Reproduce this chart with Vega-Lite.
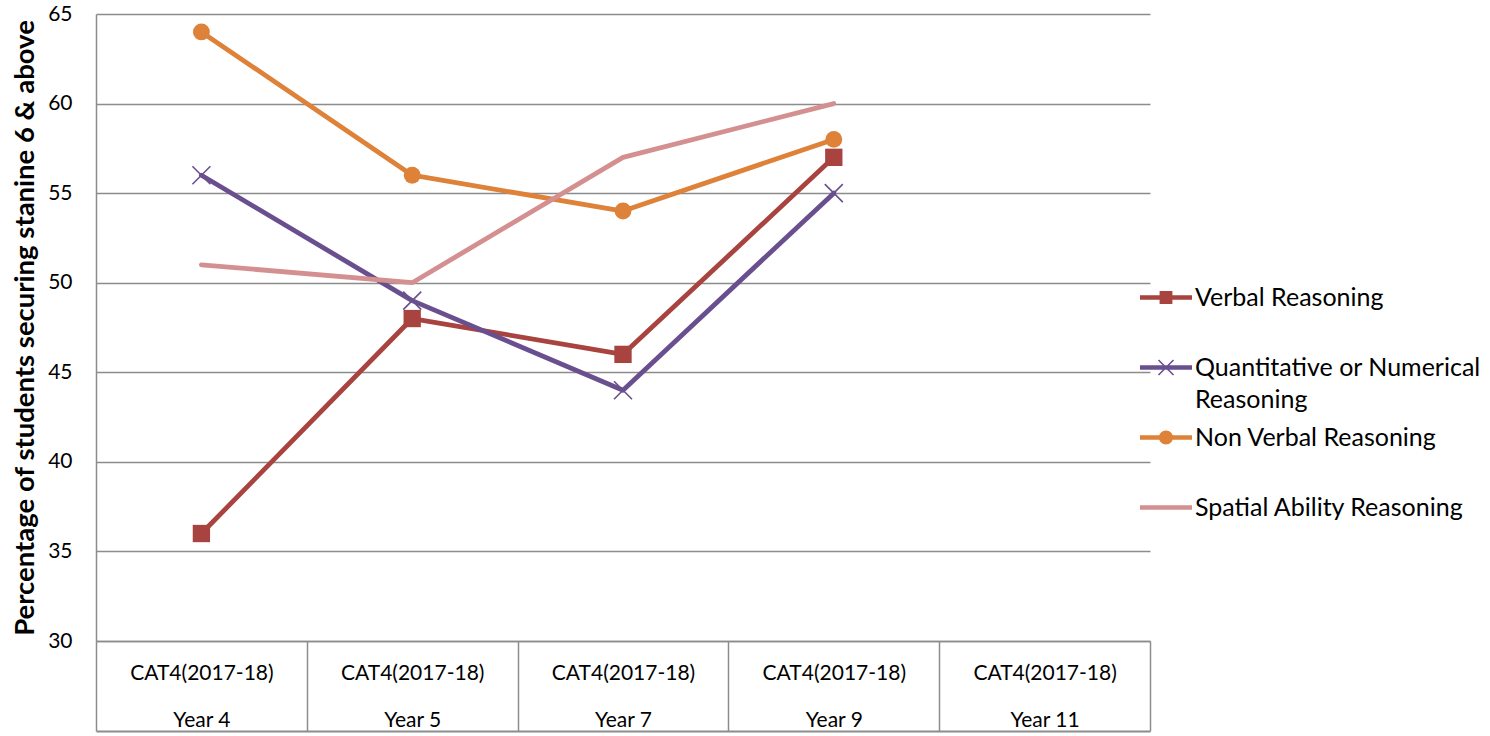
{
  "$schema": "https://vega.github.io/schema/vega-lite/v6.json",
  "width": 1054,
  "height": 627,
  "autosize": "none",
  "padding": {"left": 96, "top": 14, "right": 340, "bottom": 95},
  "background": "white",
  "config": {"font": "Lato", "view": {"stroke": null}, "style": {"guide-label": {"lineHeight": 32}}},
  "data": {
    "values": [
      {"year": "Year 4", "series": "Verbal Reasoning", "value": 36},
      {"year": "Year 5", "series": "Verbal Reasoning", "value": 48},
      {"year": "Year 7", "series": "Verbal Reasoning", "value": 46},
      {"year": "Year 9", "series": "Verbal Reasoning", "value": 57},
      {"year": "Year 4", "series": "Quantitative or Numerical Reasoning", "value": 56},
      {"year": "Year 5", "series": "Quantitative or Numerical Reasoning", "value": 49},
      {"year": "Year 7", "series": "Quantitative or Numerical Reasoning", "value": 44},
      {"year": "Year 9", "series": "Quantitative or Numerical Reasoning", "value": 55},
      {"year": "Year 4", "series": "Non Verbal Reasoning", "value": 64},
      {"year": "Year 5", "series": "Non Verbal Reasoning", "value": 56},
      {"year": "Year 7", "series": "Non Verbal Reasoning", "value": 54},
      {"year": "Year 9", "series": "Non Verbal Reasoning", "value": 58},
      {"year": "Year 4", "series": "Spatial Ability Reasoning", "value": 51},
      {"year": "Year 5", "series": "Spatial Ability Reasoning", "value": 50},
      {"year": "Year 7", "series": "Spatial Ability Reasoning", "value": 57},
      {"year": "Year 9", "series": "Spatial Ability Reasoning", "value": 60}
    ]
  },
  "resolve": {
    "scale": {"shape": "independent"},
    "axis": {"x": "independent", "y": "independent"},
    "legend": {"color": "independent", "shape": "independent"}
  },
  "layer": [
    {
      "mark": {"type": "line", "strokeWidth": 4.8, "strokeCap": "round", "strokeJoin": "round"},
      "encoding": {
        "x": {
          "field": "year", "type": "nominal",
          "scale": {"type": "band", "domain": ["Year 4", "Year 5", "Year 7", "Year 9", "Year 11"], "paddingInner": 0, "paddingOuter": 0},
          "axis": {
            "orient": "bottom",
            "title": null, "grid": false, "domain": true, "domainColor": "#8c8c8c", "domainWidth": 1.5,
            "ticks": true, "tickBand": "extent", "tickSize": 90, "tickColor": "#8c8c8c", "tickWidth": 1.5,
            "labelExpr": "datum.label == '' ? '' : ['CAT4(2017-18)', datum.label]", "labelFontSize": 21, "labelColor": "#000000",
            "labelLineHeight": 47, "labelBaseline": "middle", "labelPadding": -58, "labelAngle": 0
          }
        },
        "y": {
          "field": "value", "type": "quantitative",
          "scale": {"domain": [30, 65], "nice": false, "zero": false},
          "axis": {
            "title": "Percentage of students securing stanine 6 & above",
            "titleFontSize": 27.5, "titleFontWeight": "bold", "titleColor": "#000000", "titlePadding": 8,
            "values": [30, 35, 40, 45, 50, 55, 60, 65], "ticks": false, "labelPadding": 24,
            "labelFontSize": 21, "labelColor": "#000000",
            "domainColor": "#8c8c8c", "domainWidth": 1.5, "grid": true, "gridColor": "#8c8c8c", "gridWidth": 1.5
          }
        },
        "color": {
          "field": "series", "type": "nominal",
          "scale": {
            "domain": ["Verbal Reasoning", "Quantitative or Numerical Reasoning", "Non Verbal Reasoning", "Spatial Ability Reasoning"],
            "range": ["#A8433F", "#6A4F8F", "#DE8239", "#D49090"]
          },
          "legend": null
        }
      }
    },
    {
      "transform": [{"filter": "datum.series == 'Verbal Reasoning'"}],
      "mark": {"type": "point", "shape": "square", "filled": true, "opacity": 1, "size": 300},
      "encoding": {
        "x": {"field": "year", "type": "nominal",
          "axis": {"orient": "bottom", "title": null, "grid": false, "domain": true, "domainColor": "#8c8c8c", "domainWidth": 2, "offset": 90, "ticks": false, "labels": false}},
        "y": {"field": "value", "type": "quantitative", "axis": null},
        "color": {"field": "series", "type": "nominal", "legend": null}
      }
    },
    {
      "transform": [{"filter": "datum.series == 'Non Verbal Reasoning'"}],
      "mark": {"type": "point", "shape": "circle", "filled": true, "opacity": 1, "size": 285},
      "encoding": {
        "x": {"field": "year", "type": "nominal", "axis": null},
        "y": {"field": "value", "type": "quantitative", "axis": null},
        "color": {"field": "series", "type": "nominal", "legend": null}
      }
    },
    {
      "transform": [{"filter": "datum.series == 'Quantitative or Numerical Reasoning'"}],
      "mark": {"type": "point", "shape": "M-1,-1L1,1M-1,1L1,-1", "filled": false, "opacity": 1, "size": 324, "strokeWidth": 1.6},
      "encoding": {
        "x": {"field": "year", "type": "nominal", "axis": null},
        "y": {"field": "value", "type": "quantitative", "axis": null},
        "color": {"field": "series", "type": "nominal", "legend": null}
      }
    },
    {
      "transform": [{"filter": "datum.value < 0"}],
      "mark": {"type": "point", "filled": true},
      "encoding": {
        "x": {"field": "year", "type": "nominal", "axis": null},
        "y": {"field": "value", "type": "quantitative", "axis": null},
        "color": {
          "field": "series", "type": "nominal",
          "legend": {
            "orient": "none", "legendX": 1054, "legendY": 262, "title": null,
            "symbolSize": 1849, "symbolStrokeWidth": 0, "symbolOpacity": 1,
            "labelFontSize": 25, "labelColor": "#000000", "labelLimit": 500, "labelOffset": 2,
            "rowPadding": 3, "padding": 0, "gridAlign": "all",
            "labelExpr": "datum.label == 'Quantitative or Numerical Reasoning' ? ['Quantitative or Numerical', 'Reasoning'] : datum.label"
          }
        },
        "shape": {
          "field": "series", "type": "nominal",
          "scale": {
            "domain": ["Verbal Reasoning", "Quantitative or Numerical Reasoning", "Non Verbal Reasoning", "Spatial Ability Reasoning"],
            "range": [
              "M-1.465,-0.107H0.953V0.107H-1.465Z M-0.554,-0.298H0.042V0.298H-0.554Z",
              "M-1.465,-0.107H0.953V0.107H-1.465Z M-0.579,-0.375L0.119,0.323L0.067,0.375L-0.631,-0.323Z M-0.579,0.375L-0.631,0.323L0.067,-0.375L0.119,-0.323Z",
              "M-1.465,-0.107H0.953V0.107H-1.465Z M-0.582,0A0.326,0.326 0 1,1 0.070,0A0.326,0.326 0 1,1 -0.582,0Z",
              "M-1.465,-0.107H0.953V0.107H-1.465Z"
            ]
          },
          "legend": {
            "orient": "none", "legendX": 1054, "legendY": 262, "title": null,
            "symbolSize": 1849, "symbolStrokeWidth": 0, "symbolOpacity": 1,
            "labelFontSize": 25, "labelColor": "#000000", "labelLimit": 500, "labelOffset": 2,
            "rowPadding": 3, "padding": 0, "gridAlign": "all",
            "labelExpr": "datum.label == 'Quantitative or Numerical Reasoning' ? ['Quantitative or Numerical', 'Reasoning'] : datum.label"
          }
        }
      }
    }
  ]
}
